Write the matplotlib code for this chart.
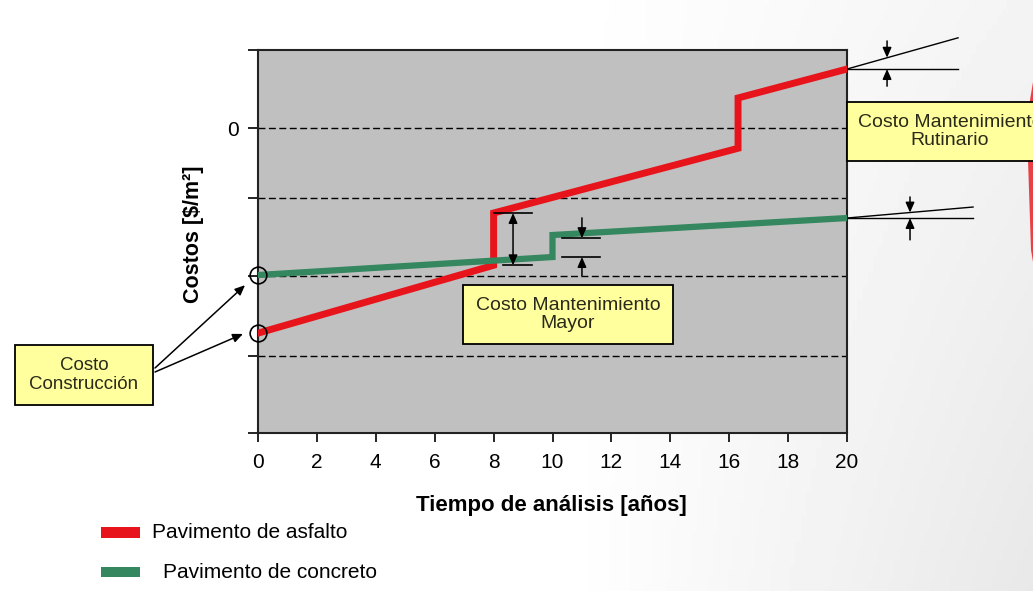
import matplotlib.pyplot as plt
import numpy as np
from matplotlib.patches import Rectangle, Polygon

plt.rcParams['font.family'] = ['Liberation Sans', 'DejaVu Sans']

W, H = 1033, 591

# datos (1 unidad del eje y = una division de la reticula)
anios = [0, 2, 4, 6, 8, 10, 12, 14, 16, 18, 20]
asfalto_t = [0, 8, 8, 16.3, 16.3, 20]
asfalto_costo = [-2.63, -1.76, -1.09, -0.26, 0.385, 0.756]
concreto_t = [0, 10, 10, 20]
concreto_costo = [-1.885, -1.654, -1.372, -1.154]
y_ticks = [1.0, 0, -0.897, -1.897, -2.917, -3.91]
y_tick_labels = ['', '0', '', '', '', '']
grid_levels = [0, -0.897, -1.897, -2.917]

rojo = '#e8141b'
verde = '#35875f'
amarillo = '#ffff9e'
texto = '#2a2a1a'


def fx(px):
    return px / W


def fy(py):
    return 1 - py / H


fig = plt.figure(figsize=(W / 100, H / 100), dpi=100)

# fondo de la diapositiva (blanco con leve gris a la derecha)
bg = fig.add_axes([0, 0, 1, 1], zorder=-1)
bg.axis('off')
gx, gy = np.meshgrid(np.linspace(0, 1, 200), np.linspace(0, 1, 120))
fondo = 1 - 0.09 * np.clip((gx - 0.55) / 0.45, 0, 1) * (0.5 + 0.5 * gy)
bg.imshow(fondo, cmap='gray', vmin=0, vmax=1, extent=[0, 1, 0, 1], aspect='auto', origin='upper')
bg.set_xlim(0, 1)
bg.set_ylim(0, 1)

ax = fig.add_axes([fx(258), fy(433), (847 - 258) / W, (433 - 50) / H], zorder=1)
ax.set_facecolor('#c0c0c0')
for lvl in grid_levels:
    ax.axhline(lvl, color='black', lw=1, linestyle=(0, (5, 2.5)), zorder=1)

ax.plot(asfalto_t, asfalto_costo, color=rojo, lw=5, solid_joinstyle='miter', zorder=3)
ax.plot(concreto_t, concreto_costo, color=verde, lw=4.5, solid_joinstyle='miter', zorder=3)

ax.plot([0], [concreto_costo[0]], 'o', mfc='none', mec='black', ms=12, mew=1.2, clip_on=False, zorder=6)
ax.plot([0], [asfalto_costo[0]], 'o', mfc='none', mec='black', ms=12, mew=1.2, clip_on=False, zorder=6)

ax.set_xlim(0, 20)
ax.set_ylim(y_ticks[-1], y_ticks[0])
ax.set_xticks(anios)
ax.set_yticks(y_ticks)
ax.set_yticklabels(y_tick_labels)
ax.tick_params(axis='y', direction='out', length=7.5, width=1.2, pad=6, labelsize=15)
ax.tick_params(axis='x', direction='out', length=6.5, width=1.2, pad=8, labelsize=15)
for s in ax.spines.values():
    s.set_linewidth(1.5)
    s.set_color('#222222')

fig.text(fx(551), fy(505), 'Tiempo de análisis [años]', ha='center', va='center',
         fontsize=16, fontweight='bold')
fig.text(fx(193), fy(234), 'Costos [$/m²]', ha='center', va='center', rotation=90,
         fontsize=15.5, fontweight='bold')

flecha = dict(arrowstyle='-|>,head_length=0.5,head_width=0.22', color='black', lw=1.1,
              mutation_scale=12, shrinkA=0, shrinkB=0)
doble = dict(arrowstyle='<|-|>,head_length=0.5,head_width=0.22', color='black', lw=1.1,
             mutation_scale=12, shrinkA=0, shrinkB=0)

# costo construccion
ax.annotate('', xy=(-0.44, concreto_costo[0] - 0.13), xytext=(155, H - 368),
            textcoords='figure pixels', arrowprops=flecha, annotation_clip=False, zorder=6)
ax.annotate('', xy=(-0.51, asfalto_costo[0] - 0.01), xytext=(155, H - 372),
            textcoords='figure pixels', arrowprops=flecha, annotation_clip=False, zorder=6)

# mantenimiento mayor: asfalto
ax.annotate('', xy=(8.66, asfalto_costo[2]), xytext=(8.66, asfalto_costo[1]),
            arrowprops=doble, zorder=5)
ax.plot([8.0, 9.3], [asfalto_costo[2]] * 2, color='black', lw=1.2, zorder=5)
ax.plot([8.32, 9.3], [asfalto_costo[1]] * 2, color='black', lw=1.2, zorder=5)

# mantenimiento mayor: concreto
arriba = concreto_costo[2] - 0.04
abajo = concreto_costo[1]
ax.plot([10.32, 11.61], [arriba] * 2, color='black', lw=1.2, zorder=5)
ax.plot([10.32, 11.61], [abajo] * 2, color='black', lw=1.2, zorder=5)
ax.annotate('', xy=(11.0, arriba), xytext=(11.0, arriba + 0.26), arrowprops=flecha, zorder=5)
ax.annotate('', xy=(11.0, abajo), xytext=(11.0, abajo - 0.24), arrowprops=flecha, zorder=5)

# mantenimiento rutinario: pendientes
ya = asfalto_costo[-1]
ax.plot([20, 23.77], [ya, ya], color='black', lw=1, clip_on=False)
ax.plot([20, 23.77], [ya, ya + 0.40], color='black', lw=1, clip_on=False)
ax.annotate('', xy=(21.36, ya + 0.145), xytext=(21.36, ya + 0.36), arrowprops=flecha,
            annotation_clip=False)
ax.annotate('', xy=(21.36, ya), xytext=(21.36, ya - 0.22), arrowprops=flecha,
            annotation_clip=False)

yc = concreto_costo[-1]
ax.plot([20, 24.28], [yc, yc], color='black', lw=1, clip_on=False)
ax.plot([20, 24.28], [yc, yc + 0.141], color='black', lw=1, clip_on=False)
ax.annotate('', xy=(22.14, yc + 0.07), xytext=(22.14, yc + 0.27), arrowprops=flecha,
            annotation_clip=False)
ax.annotate('', xy=(22.14, yc), xytext=(22.14, yc - 0.28), arrowprops=flecha,
            annotation_clip=False)


def caja(x0, y0, x1, y1, txt, cx, size=14):
    fig.add_artist(Rectangle((fx(x0), fy(y1)), (x1 - x0) / W, (y1 - y0) / H,
                             facecolor=amarillo, edgecolor='black', lw=1.3, zorder=5))
    fig.text(fx(cx), fy((y0 + y1) / 2), txt, ha='center', va='center', fontsize=size,
             color=texto, linespacing=1.15, zorder=6)


caja(15, 345, 153, 405, 'Costo\nConstrucción', 84, 13.5)
caja(463, 285, 673, 344, 'Costo Mantenimiento\nMayor', 568)
caja(847, 102, 1060, 161, 'Costo Mantenimiento\nRutinario', 950)

# leyenda
fig.add_artist(Rectangle((fx(101), fy(538)), 39 / W, 11 / H, facecolor=rojo, lw=0, zorder=5))
fig.add_artist(Rectangle((fx(101), fy(577)), 39 / W, 10 / H, facecolor=verde, lw=0, zorder=5))
fig.text(fx(152), fy(533), 'Pavimento de asfalto', ha='left', va='center', fontsize=15)
fig.text(fx(163), fy(572), 'Pavimento de concreto', ha='left', va='center', fontsize=15)

# adorno rojo de la diapositiva en el borde derecho
fig.add_artist(Polygon([(fx(1033), fy(82)), (fx(1030), fy(100)), (fx(1028), fy(160)),
                        (fx(1031), fy(250)), (fx(1033), fy(262))],
                       closed=True, facecolor=rojo, edgecolor='none', alpha=0.8, zorder=4))

fig.savefig('out.png', dpi=100)
